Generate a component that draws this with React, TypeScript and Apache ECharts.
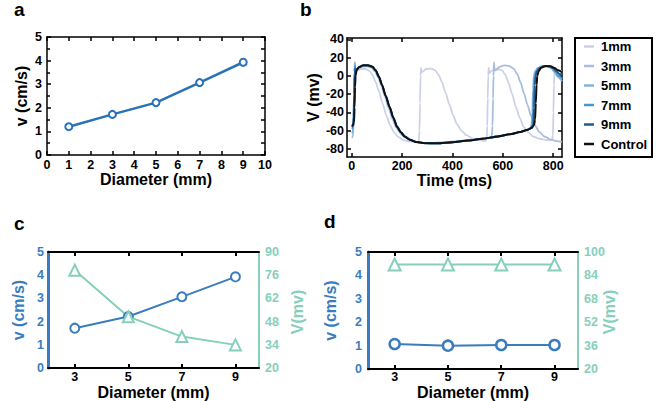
import React, { useEffect, useRef } from 'react';
import * as echarts from 'echarts';

// ---------- Panel a ----------
const diamA = [1, 3, 5, 7, 9];
const velA = [1.2, 1.72, 2.22, 3.07, 3.93];

// ---------- Panel b (time ms, voltage mV) ----------
const legendNames = ['1mm', '3mm', '5mm', '7mm', '9mm', 'Control'];
const trace1mm: [number, number][] = [
  [0,-62],[5,-61],[8,-52],[10,-25],[12,-2],[15,4],[22,6],[35,7.5],[55,7.5],[70,5.5],[82,1],[95,-7],[108,-17],[122,-30],[137,-43],[152,-54],[168,-62],[185,-67],[205,-70.5],[230,-72],[255,-72.5],[266,-72],[269,-60],[271,-30],[273,0],[275,9],[278,4],[283,5],[295,7.5],[315,8],[332,6],[345,1],[358,-7],[372,-18],[387,-31],[402,-43],[418,-53],[435,-60],[455,-65],[480,-68.5],[505,-70.5],[528,-71.5],[536,-70],[538,-55],[540,-25],[542,0],[544,9],[547,3],[553,5],[565,7],[580,7.5],[597,6],[610,1],[623,-8],[637,-20],[652,-34],[667,-46],[683,-56],[700,-62],[720,-66.5],[745,-69],[775,-70.5],[795,-70.5],[799,-65],[801,-40],[803,-10],[805,5],[808,8],[812,4],[820,5],[835,5.5]
];
const trace3mm: [number, number][] = [
  [0,-68],[4,-67],[7,-50],[9,-20],[11,5],[12,15],[14,6],[18,5],[25,8],[40,10],[60,10.5],[78,9],[92,5],[105,-2],[118,-11],[132,-23],[147,-36],[162,-48],[177,-57],[192,-63],[210,-67.5],[230,-70.5],[260,-72.8],[300,-73.5],[370,-72.8],[440,-71],[500,-69.5],[540,-68],[556,-67],[559,-55],[561,-25],[563,0],[565,15],[567,6],[572,6],[585,9.5],[605,11.5],[625,11],[643,8],[657,2],[670,-7],[684,-19],[698,-32],[712,-44],[727,-54],[745,-61.5],[765,-66.5],[790,-70],[815,-71.5],[835,-72.5]
];
const trace5mm: [number, number][] = [
  [0,-63],[4,-62],[7,-48],[9,-20],[11,5],[12.5,14],[14.5,6],[19,6.5],[28,9.5],[45,11],[65,11],[82,9.5],[95,5.5],[108,-2],[121,-11],[136,-23],[151,-35],[166,-47],[181,-56],[196,-62],[212,-66.5],[232,-70],[257,-72.5],[292,-73.8],[340,-74],[400,-72.8],[460,-71],[520,-69],[580,-66.5],[630,-64],[670,-61.5],[698,-59],[710,-57],[714,-53],[717,-40],[720,-15],[723,0],[728,5],[738,8.5],[755,10.5],[775,10.5],[792,8.5],[806,4],[818,-1],[835,-6]
];
const trace7mm: [number, number][] = [
  [0,-58],[4,-57],[7,-45],[9,-20],[11,4],[13,11],[15,6],[20,7],[28,9.5],[45,11.2],[65,11.2],[82,9.8],[95,5.8],[108,-1.5],[121,-10.5],[136,-22.5],[151,-34.5],[166,-46.5],[181,-55.5],[196,-62],[212,-66.5],[232,-70],[257,-72.5],[292,-73.8],[340,-74],[400,-72.8],[460,-71],[520,-69],[580,-66.5],[630,-64],[670,-61.5],[700,-59],[713,-57],[718,-53],[721,-35],[724,-10],[727,0],[732,5],[742,8.5],[760,10.5],[780,10.5],[797,8.5],[810,4],[822,0],[835,-3]
];
const trace9mm: [number, number][] = [
  [0,-56],[5,-55],[8,-45],[10,-20],[12,2],[14,8],[17,6],[22,7.5],[30,9.8],[45,11.4],[65,11.4],[82,10],[95,6],[108,-1],[120,-10],[135,-22],[150,-34],[165,-46],[180,-56],[195,-62],[210,-66.5],[230,-70],[255,-72.5],[290,-73.8],[340,-74],[400,-72.8],[460,-71],[520,-69],[580,-66.5],[630,-64],[670,-61.5],[700,-59],[715,-57],[721,-53],[724,-35],[727,-10],[730,0],[735,5],[746,8.5],[764,10.6],[784,10.6],[800,8.5],[813,5],[825,2],[835,1]
];
const traceControl: [number, number][] = [
  [0,-55],[5,-54],[9,-51],[11,-35],[13,-12],[15,0],[19,6],[28,9.5],[45,11.5],[65,11.5],[82,10],[95,6],[108,-1],[120,-10],[135,-22],[150,-34],[165,-46],[180,-56],[195,-62],[210,-66.5],[230,-70],[255,-72.5],[290,-73.8],[340,-74],[400,-72.8],[460,-71],[520,-69],[580,-66.5],[630,-64],[670,-61.5],[700,-59],[715,-57],[724,-54],[728,-48],[731,-30],[734,-10],[737,0],[742,5],[752,9],[770,10.8],[790,10.5],[805,8.5],[820,6],[835,4]
];
const traces = [trace1mm, trace3mm, trace5mm, trace7mm, trace9mm, traceControl];
const traceColors = ['#cdd1e6', '#a9bcdd', '#86b1da', '#4a97d0', '#1f5c8e', '#111111'];
const timeTicks = [0, 200, 400, 600, 800];
const voltTicks = [-80, -60, -40, -20, 0, 20, 40];

// ---------- Panel c ----------
const diamCD = [3, 5, 7, 9];
const velC = [1.72, 2.22, 3.07, 3.93];
const voltC = [79, 51, 39, 34];
const voltTicksC = [20, 34, 48, 62, 76, 90];

// ---------- Panel d ----------
const velD = [1.07, 1.0, 1.03, 1.03];
const voltD = [91.5, 91.5, 91.5, 91.5];
const voltTicksD = [20, 36, 52, 68, 84, 100];

const FONT = "'Liberation Sans', Arial, sans-serif";
const BLUE = '#3a7dbf';
const TEAL = '#86d0bb';
const BLUE_A = '#2a72b8';

const lbl = (color = '#000', margin = 2) => ({
  color, fontSize: 12.5, fontWeight: 'bold' as const, fontFamily: FONT, margin,
});
const nameStyle = (color = '#000') => ({
  color, fontSize: 16, fontWeight: 'bold' as const, fontFamily: FONT,
});
const line = (color: string, width: number) => ({ show: true, onZero: false, lineStyle: { color, width } });

export default function App() {
  const ref = useRef<HTMLDivElement>(null);
  useEffect(() => {
    if (!ref.current) return;
    const chart = echarts.init(ref.current, undefined, { renderer: 'svg' });
    const blackLine = line('#000', 1.5);
    const tick = (extra: any = {}) => ({ show: true, inside: true, length: 4, lineStyle: { color: '#000', width: 1.5 }, ...extra });
    const letter = (text: string, x: number, y: number) => ({
      type: 'text', x, y, style: { text, fontSize: 19, fontWeight: 'bold', fontFamily: FONT, fill: '#000' },
    });
    const vName = (text: string, x: number, y: number, color: string) => ({
      type: 'text', x, y, rotation: Math.PI / 2,
      style: { text, fontSize: 16, fontWeight: 'bold', fontFamily: FONT, fill: color, align: 'center', verticalAlign: 'middle' },
    });

    const option: any = {
      animation: false,
      backgroundColor: '#fff',
      grid: [
        { left: 47, top: 37, width: 218, height: 118 },
        { left: 347, top: 38, width: 215, height: 119 },
        { left: 48, top: 252, width: 211, height: 120 },
        { left: 368, top: 252, width: 210, height: 120 },
      ],
      xAxis: [
        // a bottom
        { gridIndex: 0, type: 'value', position: 'bottom', min: 0, max: 10, interval: 1,
          axisLine: blackLine, axisTick: tick(),
          axisLabel: lbl('#000', 3), splitLine: { show: false },
          name: 'Diameter (mm)', nameLocation: 'middle', nameGap: 16, nameTextStyle: nameStyle() },
        // a top
        { gridIndex: 0, type: 'value', position: 'top', min: 0, max: 10, interval: 1,
          axisLine: blackLine, axisTick: tick(),
          axisLabel: { show: false }, splitLine: { show: false } },
        // b bottom
        { gridIndex: 1, type: 'value', position: 'bottom', min: -19, max: 835,
          axisLine: blackLine, axisTick: tick({ customValues: timeTicks }),
          axisLabel: { ...lbl('#000', 2), customValues: timeTicks }, splitLine: { show: false },
          name: 'Time (ms)', nameLocation: 'middle', nameGap: 15, nameTextStyle: nameStyle() },
        // b top
        { gridIndex: 1, type: 'value', position: 'top', min: -19, max: 835,
          axisLine: blackLine, axisTick: tick({ customValues: timeTicks }),
          axisLabel: { show: false, customValues: timeTicks }, splitLine: { show: false } },
        // c bottom
        { gridIndex: 2, type: 'value', position: 'bottom', min: 2, max: 9.88,
          axisLine: line('#000', 2), axisTick: tick({ customValues: diamCD, lineStyle: { color: '#000', width: 2 } }),
          axisLabel: { ...lbl('#000', 2), customValues: diamCD }, splitLine: { show: false },
          name: 'Diameter (mm)', nameLocation: 'middle', nameGap: 13, nameTextStyle: nameStyle() },
        // c top
        { gridIndex: 2, type: 'value', position: 'top', min: 2, max: 9.88,
          axisLine: line('#000', 2), axisTick: tick({ customValues: diamCD, lineStyle: { color: '#000', width: 2 } }),
          axisLabel: { show: false, customValues: diamCD }, splitLine: { show: false } },
        // d bottom
        { gridIndex: 3, type: 'value', position: 'bottom', min: 2.0, max: 9.88,
          axisLine: line('#000', 2), axisTick: tick({ customValues: diamCD, lineStyle: { color: '#000', width: 2 } }),
          axisLabel: { ...lbl('#000', 1), customValues: diamCD }, splitLine: { show: false },
          name: 'Diameter (mm)', nameLocation: 'middle', nameGap: 11, nameTextStyle: nameStyle() },
        // d top
        { gridIndex: 3, type: 'value', position: 'top', min: 2.0, max: 9.88,
          axisLine: line('#000', 2), axisTick: tick({ customValues: diamCD, lineStyle: { color: '#000', width: 2 } }),
          axisLabel: { show: false, customValues: diamCD }, splitLine: { show: false } },
      ],
      yAxis: [
        // a left
        { gridIndex: 0, type: 'value', position: 'left', min: 0, max: 5, interval: 1,
          axisLine: blackLine, axisTick: tick(),
          minorTick: { show: true, splitNumber: 2, length: 3, lineStyle: { color: '#000', width: 1.5 } },
          axisLabel: lbl('#000', 5), splitLine: { show: false },
          name: 'v (cm/s)', nameLocation: 'middle', nameRotate: 90, nameGap: 18, nameTextStyle: nameStyle() },
        // a right
        { gridIndex: 0, type: 'value', position: 'right', min: 0, max: 5, interval: 0.5,
          axisLine: blackLine, axisTick: tick(),
          axisLabel: { show: false }, splitLine: { show: false } },
        // b left
        { gridIndex: 1, type: 'value', position: 'left', min: -89, max: 41.5,
          axisLine: blackLine, axisTick: tick({ customValues: voltTicks }),
          axisLabel: { ...lbl('#000', 3), customValues: voltTicks }, splitLine: { show: false },
          name: 'V (mv)', nameLocation: 'middle', nameRotate: 90, nameGap: 26, nameTextStyle: nameStyle() },
        // b right
        { gridIndex: 1, type: 'value', position: 'right', min: -89, max: 41.5,
          axisLine: blackLine, axisTick: tick({ customValues: voltTicks }),
          axisLabel: { show: false, customValues: voltTicks }, splitLine: { show: false } },
        // c left
        { gridIndex: 2, type: 'value', position: 'left', min: 0, max: 5, interval: 1,
          axisLine: line(BLUE, 3), axisTick: { show: false },
          axisLabel: lbl(BLUE, 4), splitLine: { show: false },
          name: 'v (cm/s)', nameLocation: 'middle', nameRotate: 90, nameGap: 22, nameTextStyle: nameStyle(BLUE) },
        // c right
        { gridIndex: 2, type: 'value', position: 'right', min: 20, max: 90,
          axisLine: line(TEAL, 2), axisTick: { show: false, customValues: voltTicksC },
          axisLabel: { ...lbl(TEAL, 6), customValues: voltTicksC }, splitLine: { show: false } },
        // d left
        { gridIndex: 3, type: 'value', position: 'left', min: 0, max: 5, interval: 1,
          axisLine: line(BLUE, 3), axisTick: { show: false },
          axisLabel: lbl(BLUE, 6), splitLine: { show: false },
          name: 'v (cm/s)', nameLocation: 'middle', nameRotate: 90, nameGap: 30, nameTextStyle: nameStyle(BLUE) },
        // d right
        { gridIndex: 3, type: 'value', position: 'right', min: 20, max: 100,
          axisLine: line(TEAL, 2), axisTick: { show: false, customValues: voltTicksD },
          axisLabel: { ...lbl(TEAL, 6), customValues: voltTicksD }, splitLine: { show: false } },
      ],
      legend: {
        data: legendNames,
        orient: 'vertical',
        left: 584,
        top: 40,
        padding: 0,
        itemWidth: 10,
        itemHeight: 2.5,
        itemGap: 6.5,
        icon: 'rect',
        textStyle: { color: '#000', fontSize: 13, fontWeight: 'bold', fontFamily: FONT, padding: [0, 0, 0, 2] },
      },
      graphic: [
        { type: 'rect', shape: { x: 575, y: 38, width: 77, height: 119 },
          style: { fill: 'none', stroke: '#000', lineWidth: 2 } },
        letter('a', 14, 0),
        letter('b', 300, 0),
        letter('c', 14, 214),
        letter('d', 324, 212),
        vName('V(mv)', 297, 312, TEAL),
        vName('V(mv)', 609, 312, TEAL),
      ],
      series: [
        { type: 'line', xAxisIndex: 0, yAxisIndex: 0, data: diamA.map((d, i) => [d, velA[i]]),
          lineStyle: { color: BLUE_A, width: 2.5 }, symbol: 'circle', symbolSize: 7,
          itemStyle: { color: '#fff', borderColor: BLUE_A, borderWidth: 2 } },
        ...traces.map((tr, i) => ({
          type: 'line', name: legendNames[i], xAxisIndex: 2, yAxisIndex: 2, data: tr,
          showSymbol: false, symbol: 'none', smooth: 0.25, smoothMonotone: 'x',
          color: traceColors[i],
          lineStyle: { color: traceColors[i], width: i === 5 ? 2 : 1.8 },
          itemStyle: { color: traceColors[i] },
        })),
        { type: 'line', xAxisIndex: 4, yAxisIndex: 4, data: diamCD.map((d, i) => [d, velC[i]]),
          lineStyle: { color: BLUE, width: 2 }, symbol: 'circle', symbolSize: 9,
          itemStyle: { color: '#fff', borderColor: BLUE, borderWidth: 2 } },
        { type: 'line', xAxisIndex: 4, yAxisIndex: 5, data: diamCD.map((d, i) => [d, voltC[i]]),
          lineStyle: { color: TEAL, width: 2 }, symbol: 'triangle', symbolSize: 11,
          itemStyle: { color: '#fff', borderColor: TEAL, borderWidth: 2 } },
        { type: 'line', xAxisIndex: 6, yAxisIndex: 6, data: diamCD.map((d, i) => [d, velD[i]]),
          lineStyle: { color: BLUE, width: 2 }, symbol: 'circle', symbolSize: 10,
          itemStyle: { color: '#fff', borderColor: BLUE, borderWidth: 2.5 } },
        { type: 'line', xAxisIndex: 6, yAxisIndex: 7, data: diamCD.map((d, i) => [d, voltD[i]]),
          lineStyle: { color: TEAL, width: 2 }, symbol: 'triangle', symbolSize: 12,
          itemStyle: { color: '#fff', borderColor: TEAL, borderWidth: 2 } },
      ],
    };
    chart.setOption(option);
    return () => chart.dispose();
  }, []);
  return <div ref={ref} style={{ position: 'fixed', left: 0, top: 0, width: 656, height: 401, background: '#fff' }} />;
}
